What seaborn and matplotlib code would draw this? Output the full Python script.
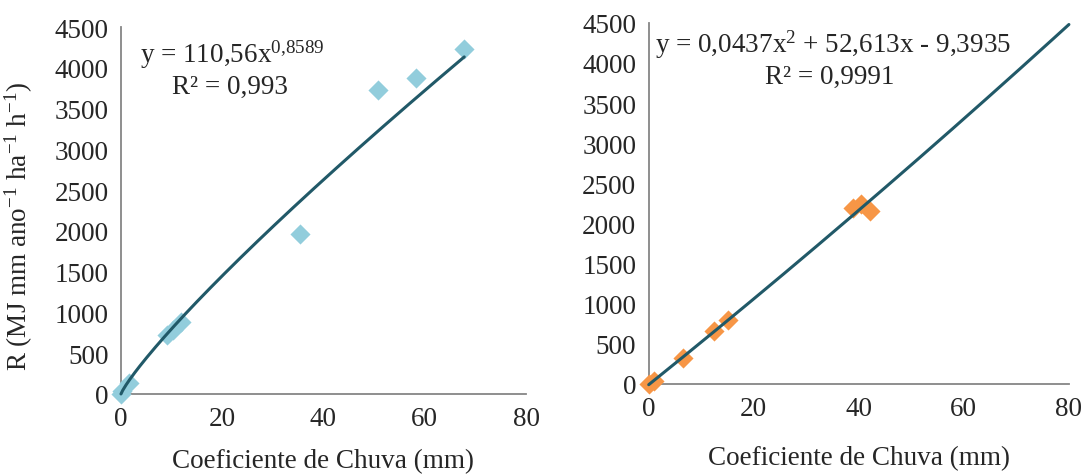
import numpy as np
import pandas as pd
import seaborn as sns
import matplotlib
matplotlib.use("Agg")
import matplotlib.pyplot as plt

sns.set_style("white")
plt.rcParams['font.family'] = ['Liberation Serif', 'DejaVu Serif']
plt.rcParams['mathtext.fontset'] = 'custom'
plt.rcParams['mathtext.rm'] = 'Liberation Serif'
plt.rcParams['mathtext.it'] = 'Liberation Serif'

# ---- data ----
left_x = [0.0, 0.3, 1.5, 9.0, 10.3, 11.8, 35.4, 50.7, 58.3, 67.8]
left_y = [0, 40, 140, 720, 790, 880, 1960, 3730, 3880, 4230]
right_x = [0.0, 1.0, 6.6, 12.4, 15.1, 38.9, 40.5, 42.1]
right_y = [0, 40, 320, 660, 800, 2190, 2240, 2160]

# trendline coefficients shown on the chart
pow_a, pow_b = 110.56, 0.8589
poly_c2, poly_c1, poly_c0 = 0.0437, 52.613, -9.3935

x_ticks = [0, 20, 40, 60, 80]
y_ticks = [0, 500, 1000, 1500, 2000, 2500, 3000, 3500, 4000, 4500]

x_label = "Coeficiente de Chuva (mm)"
y_label = r"R (MJ mm ano$^{-1}$ ha$^{-1}$ h$^{-1}$)"
eq_left = r"y = 110,56x$^{0{,}8589}$"
r2_left = "R² = 0,993"
eq_right = r"y = 0,0437x$^{2}$ + 52,613x - 9,3935"
r2_right = "R² = 0,9991"

blue = "#92CDDC"
orange = "#F79646"
line_c = "#215968"
gray = "#868686"
FS = 19.5

fig = plt.figure(figsize=(10.83, 4.77), dpi=100)
axL = fig.add_axes([0.1117, 0.172, 0.374, 0.769])
axR = fig.add_axes([0.599, 0.193, 0.388, 0.757])


def style(ax, xpad):
    ax.set_xlim(0, 80)
    ax.set_ylim(0, 4500)
    ax.set_xticks(x_ticks)
    ax.set_yticks(y_ticks)
    for s in ["top", "right"]:
        ax.spines[s].set_visible(False)
    for s in ["left", "bottom"]:
        ax.spines[s].set_color(gray)
        ax.spines[s].set_linewidth(1.3)
    ax.tick_params(axis="both", direction="out", length=6, width=1.3,
                   color=gray, labelsize=FS, pad=3)
    ax.set_xlabel(x_label, fontsize=FS, labelpad=xpad)
    ax.grid(False)


# left panel
dfL = pd.DataFrame({"x": left_x, "y": left_y})
sns.scatterplot(data=dfL, x="x", y="y", ax=axL, marker="D", s=105,
                color=blue, linewidth=0, clip_on=False, zorder=3)
xl = np.linspace(0, max(left_x), 200)
dfLf = pd.DataFrame({"x": xl, "y": pow_a * xl ** pow_b})
sns.lineplot(data=dfLf, x="x", y="y", ax=axL, color=line_c, linewidth=2.2,
             zorder=4, clip_on=False)
style(axL, 12)
axL.set_ylabel(y_label, fontsize=FS)
axL.yaxis.set_label_coords(-0.212, 0.46)
axL.text(0.047, 0.905, eq_left, transform=axL.transAxes, fontsize=FS, ha="left", va="baseline")
axL.text(0.126, 0.82, r2_left, transform=axL.transAxes, fontsize=FS, ha="left", va="baseline")

# right panel
dfR = pd.DataFrame({"x": right_x, "y": right_y})
sns.scatterplot(data=dfR, x="x", y="y", ax=axR, marker="D", s=105,
                color=orange, linewidth=0, clip_on=False, zorder=3)
xr = np.linspace(0, 80, 200)
dfRf = pd.DataFrame({"x": xr, "y": poly_c2 * xr ** 2 + poly_c1 * xr + poly_c0})
sns.lineplot(data=dfRf, x="x", y="y", ax=axR, color=line_c, linewidth=2.2,
             zorder=4, clip_on=False)
style(axR, 17)
axR.set_ylabel("")
axR.text(0.014, 0.92, eq_right, transform=axR.transAxes, fontsize=FS, ha="left", va="baseline")
axR.text(0.276, 0.835, r2_right, transform=axR.transAxes, fontsize=FS, ha="left", va="baseline")

fig.savefig("out.png", dpi=100)
